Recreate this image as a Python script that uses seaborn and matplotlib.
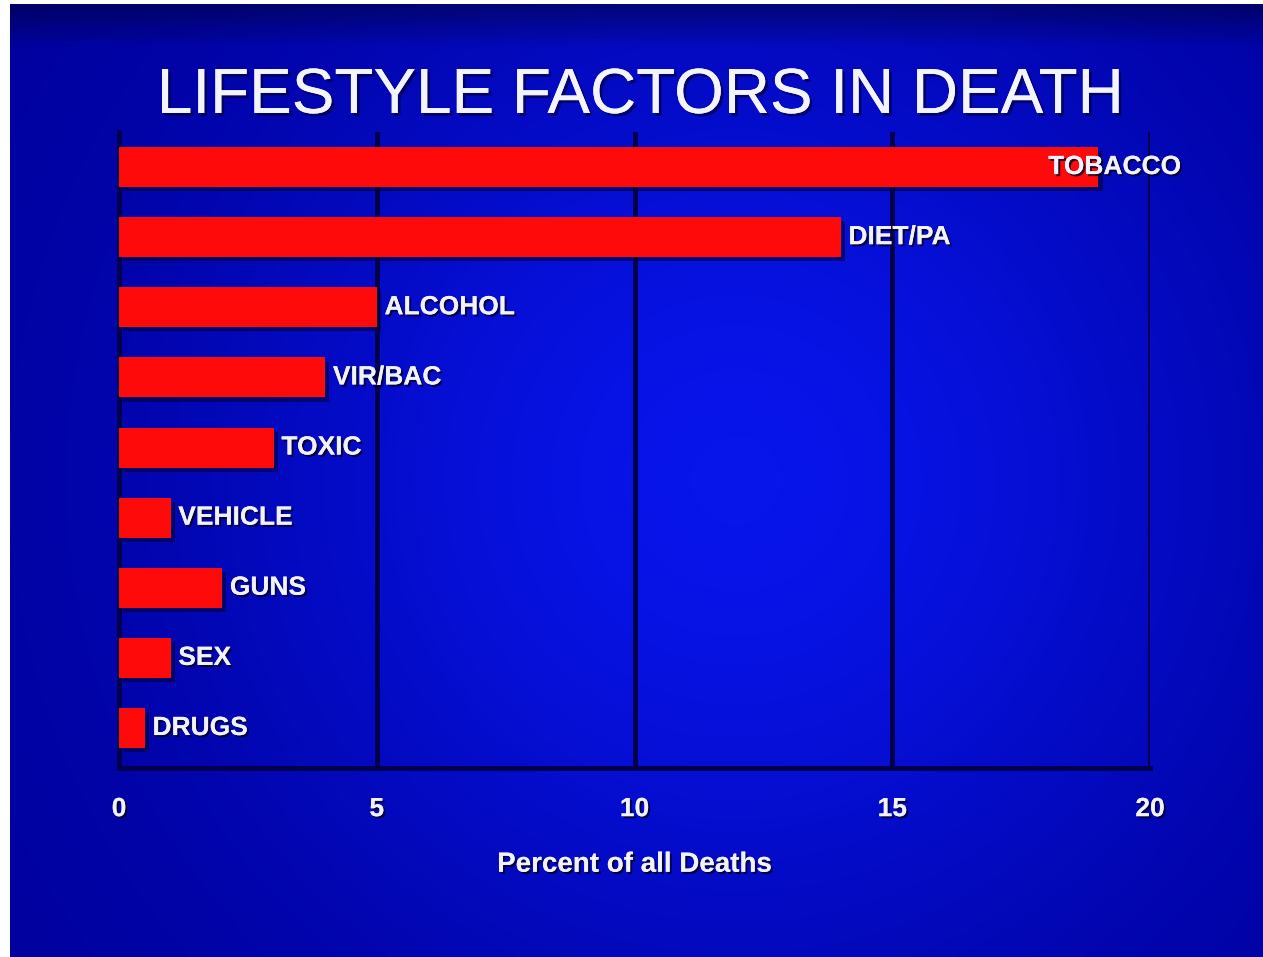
import numpy as np
import pandas as pd
import matplotlib
matplotlib.use("Agg")
import matplotlib.pyplot as plt
import matplotlib.patheffects as pe
import seaborn as sns

# Lifestyle factors and their share of all deaths (percent)
factors = ["TOBACCO", "DIET/PA", "ALCOHOL", "VIR/BAC", "TOXIC",
           "VEHICLE", "GUNS", "SEX", "DRUGS"]
percent = [19.0, 14.0, 5.0, 4.0, 3.0, 1.0, 2.0, 1.0, 0.5]
x_ticks = [0, 5, 10, 15, 20]

title_text = "LIFESTYLE FACTORS IN DEATH"
x_label = "Percent of all Deaths"

df = pd.DataFrame({"factor": factors, "percent": percent})

sns.set_style("white")
plt.rcParams["font.family"] = ["Liberation Sans", "DejaVu Sans"]

W, H = 1263, 957
fig = plt.figure(figsize=(W / 100, H / 100), dpi=100, facecolor="white")

# slide background: blue with a brighter centre and darker edges
bg = fig.add_axes([10 / W, 0, 1 - 10 / W, 1 - 4 / H])
bg.set_axis_off()
gx = np.linspace(0, 1, 400)
gy = np.linspace(0, 1, 300)
XX, YY = np.meshgrid(gx, gy)
glow = np.exp(-((XX - 0.58) / 0.42) ** 2 - ((YY - 0.50) / 0.55) ** 2)
dark = np.array([0.0, 0.0, 0.60])
bright = np.array([0.03, 0.08, 0.92])
img = dark + (bright - dark) * glow[..., None]
# darker strip along the top edge
top = np.clip((0.045 - YY) / 0.045, 0, 1)[..., None]
img = img * (1 - 0.35 * top)
bg.imshow(img, aspect="auto", extent=[0, 1, 1, 0], interpolation="bilinear")
bg.set_xlim(0, 1)
bg.set_ylim(1, 0)

ax = fig.add_axes([119 / W, 1 - 768 / H, (1150 - 119) / W, (768 - 132) / H])
ax.patch.set_alpha(0)

sns.barplot(data=df, x="percent", y="factor", orient="h", color="#ff0a0a",
            saturation=1, width=0.57, ax=ax, zorder=3)

bar_shadow = [pe.withSimplePatchShadow(offset=(3, -3), shadow_rgbFace="#000030",
                                       alpha=0.55), pe.Normal()]
for p in ax.patches:
    p.set_edgecolor("none")
    p.set_path_effects(bar_shadow)

ax.set_xlim(0, 20)
ax.set_ylim(len(factors) - 0.43, -0.5)
ax.set_xticks(x_ticks)
ax.set_xticklabels([str(t) for t in x_ticks])
ax.set_yticks([])
ax.set_ylabel("")

grid_col = "#00004a"
ax.grid(axis="x", color=grid_col, linewidth=3.5, zorder=1)
ax.set_axisbelow(True)
for side in ["top", "right"]:
    ax.spines[side].set_visible(False)
for side in ["left", "bottom"]:
    ax.spines[side].set_color(grid_col)
    ax.spines[side].set_linewidth(3.5)

txt_shadow = [pe.withSimplePatchShadow(offset=(1.5, -1.5), shadow_rgbFace="#000020",
                                       alpha=0.8), pe.Normal()]

ax.tick_params(axis="x", length=0, pad=21, labelsize=19, labelcolor="#f2f2ff")
for lbl in ax.get_xticklabels():
    lbl.set_fontweight("bold")
    lbl.set_path_effects(txt_shadow)

ax.set_xlabel(x_label, fontsize=20, fontweight="bold", color="#f2f2ff",
              labelpad=22, path_effects=txt_shadow)

# category labels at the end of each bar
for i, (name, val) in enumerate(zip(factors, percent)):
    if val > 18:
        ax.text(20.6, i, name, ha="right", va="center", fontsize=19,
                fontweight="bold", color="#f2f2ff", path_effects=txt_shadow,
                zorder=5, clip_on=False)
    else:
        ax.text(val + 0.15, i, name, ha="left", va="center", fontsize=19,
                fontweight="bold", color="#f2f2ff", path_effects=txt_shadow,
                zorder=5, clip_on=False)

fig.text(640 / W, 1 - 96 / H, title_text, ha="center", va="center",
         fontsize=46, color="#f4f4ff",
         path_effects=[pe.withSimplePatchShadow(offset=(2, -2),
                                                shadow_rgbFace="#000030",
                                                alpha=0.6), pe.Normal()])

fig.savefig("out.png", dpi=100, facecolor="white")
